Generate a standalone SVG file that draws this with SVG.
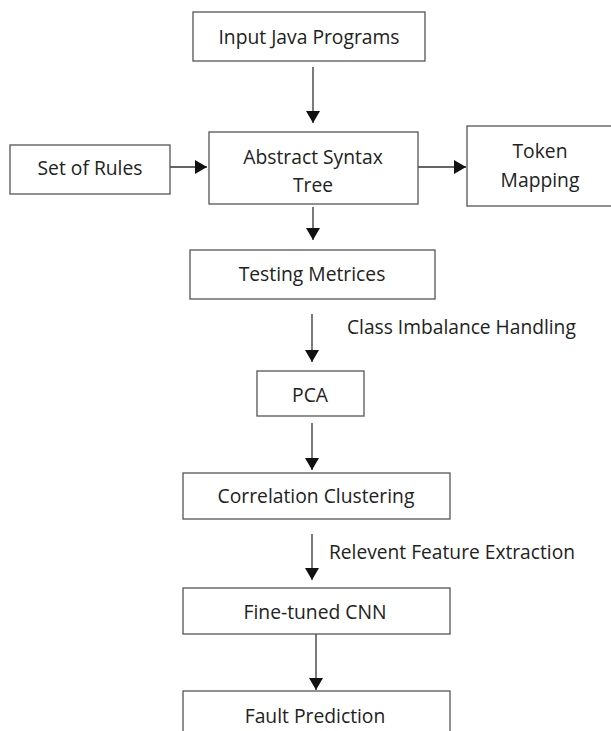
<svg xmlns="http://www.w3.org/2000/svg" width="611" height="731" viewBox="0 0 611 731">
<defs>
<marker id="ah" viewBox="0 0 12 14" refX="12" refY="7" markerWidth="12" markerHeight="14" markerUnits="userSpaceOnUse" orient="auto">
<path d="M0,0 L12,7 L0,14 Z" fill="#111"/>
</marker>
</defs>
<style>
.box{fill:#fff;stroke:#555;stroke-width:1.3}
.t{font-family:"Open Sans","Liberation Sans",sans-serif;font-size:19.3px;fill:#222;text-anchor:middle;dominant-baseline:central}
.lbl{font-family:"Open Sans","Liberation Sans",sans-serif;font-size:19.2px;fill:#222}
.c{stroke:#333;stroke-width:1.3;fill:none;marker-end:url(#ah)}
</style>
<rect width="611" height="731" fill="#fff"/>
<g id="connectors">
<line class="c" x1="313" y1="67" x2="313" y2="123"/>
<line class="c" x1="170" y1="167" x2="207" y2="167"/>
<line class="c" x1="418" y1="167" x2="466" y2="167"/>
<line class="c" x1="313" y1="207" x2="313" y2="240"/>
<line class="c" x1="312" y1="314" x2="312" y2="362"/>
<line class="c" x1="312" y1="423" x2="312" y2="470"/>
<line class="c" x1="312" y1="534" x2="312" y2="580"/>
<line class="c" x1="316" y1="634" x2="316" y2="690"/>
<text class="lbl" x="347" y="334">Class Imbalance Handling</text>
<text class="lbl" x="329" y="559">Relevent Feature Extraction</text>
</g>
<g id="input"><rect class="box" x="193" y="12" width="232" height="49"/><text class="t" x="309" y="36">Input Java Programs</text></g>
<g id="rules"><rect class="box" x="10" y="145" width="160" height="49"/><text class="t" x="90" y="167">Set of Rules</text></g>
<g id="ast"><rect class="box" x="209" y="132" width="209" height="72"/><text class="t" x="313" y="156">Abstract Syntax</text><text class="t" x="313" y="184">Tree</text></g>
<g id="token"><rect class="box" x="467" y="126" width="150" height="80"/><text class="t" x="540" y="150">Token</text><text class="t" x="540" y="179">Mapping</text></g>
<g id="testing"><rect class="box" x="190" y="250" width="245" height="49"/><text class="t" x="312" y="273">Testing Metrices</text></g>
<g id="pca"><rect class="box" x="257" y="371" width="107" height="45"/><text class="t" x="310" y="394">PCA</text></g>
<g id="corr"><rect class="box" x="183" y="473" width="267" height="46"/><text class="t" x="316" y="495">Correlation Clustering</text></g>
<g id="cnn"><rect class="box" x="183" y="588" width="267" height="46"/><text class="t" x="315" y="611">Fine-tuned CNN</text></g>
<g id="fault"><rect class="box" x="183" y="691" width="267" height="50"/><text class="t" x="315" y="715">Fault Prediction</text></g>
</svg>
